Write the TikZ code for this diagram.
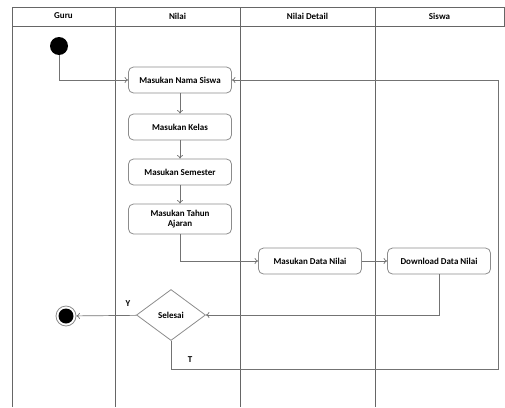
\documentclass[tikz,border=0pt]{standalone}
\usepackage{fontspec}
\setmainfont{Carlito}
\usetikzlibrary{shapes.geometric,arrows.meta}
\begin{document}
\begin{tikzpicture}[x=1pt,y=-1pt,
  lane/.style={draw=black!60, line width=0.8pt},
  txt/.style={font=\bfseries\fontsize{9}{10.5}\selectfont, text=black},
  act/.style={txt, draw=black!45, rounded corners=5pt, minimum width=103pt, minimum height=26pt, align=center, inner sep=1pt, line width=0.8pt},
  flow/.style={draw=black!55, line width=0.7pt, -{To[length=3.5pt,width=6pt]}},
  lbl/.style={txt, inner sep=0pt}
]
\useasboundingbox (0,0) rectangle (505,407);
% swimlanes
\draw[lane] (12,407) -- (12,7) -- (504,7) -- (504,26) -- (12,26);
\foreach \x in {115,240,375} \draw[lane] (\x,7) -- (\x,407);
\node[txt] (h1) at (63.5,16) {Guru};
\node[txt] (h2) at (177.5,16) {Nilai};
\node[txt] (h3) at (307.5,16) {Nilai Detail};
\node[txt] (h4) at (439.5,16) {Siswa};
% nodes
\node[circle, fill=black, minimum size=18pt, inner sep=0pt] (s) at (59,46) {};
\node[act] (n1) at (180,80) {Masukan Nama Siswa};
\node[act] (n2) at (180,127) {Masukan Kelas};
\node[act] (n3) at (180,172) {Masukan Semester};
\node[act, minimum height=30pt] (n4) at (180,219) {Masukan Tahun\\Ajaran};
\node[act] (n5) at (310,261) {Masukan Data Nilai};
\node[act] (n6) at (439,261) {Download Data Nilai};
\node[txt, diamond, draw=black!45, line width=0.8pt, minimum width=69pt, minimum height=51pt, shape aspect=1.35, inner sep=0pt] (d) at (171,315) {Selesai};
\node[circle, draw=black!45, line width=0.8pt, minimum size=20pt, inner sep=0pt,
  path picture={\fill[black] (path picture bounding box.center) circle (7.5pt);}] (e) at (66,316) {};
\coordinate (c1) at (498,369);
% connectors
\draw[flow] (s) |- (n1);
\draw[flow] (n1) -- (n2);
\draw[flow] (n2) -- (n3);
\draw[flow] (n3) -- (n4);
\draw[flow] (n4) |- (n5);
\draw[flow] (n5) -- (n6);
\draw[flow] (n6.south) |- (d.east);
\draw[flow] (d) -- (e);
\draw[flow] (d.south) |- (c1) |- (n1.east);
\node[lbl] (ly) at (128,304) {Y};
\node[lbl] (lt) at (190,360) {T};
\end{tikzpicture}
\end{document}
